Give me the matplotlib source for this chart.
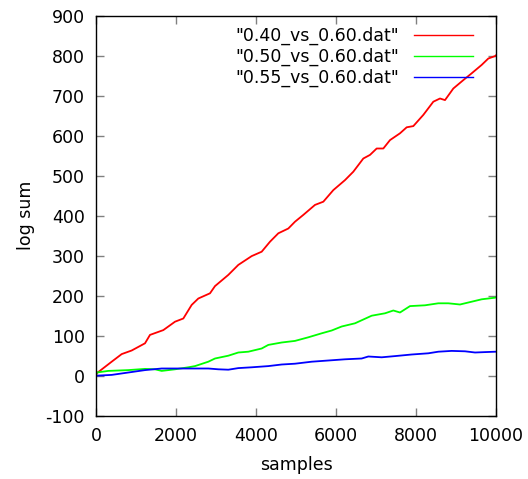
import matplotlib
matplotlib.use("Agg")
import matplotlib.pyplot as plt

plt.rcParams['font.family'] = ['DejaVu Sans']
plt.rcParams['axes.unicode_minus'] = False

red_x = [0, 17, 392, 642, 892, 1225, 1350, 1683, 1975, 2183, 2392, 2558, 2850, 2975,
         3308, 3558, 3892, 4142, 4350, 4558, 4808, 4975, 5183, 5475, 5683, 5933,
         6225, 6433, 6683, 6850, 7017, 7183, 7350, 7600, 7767, 7933, 8183, 8433,
         8600, 8725, 8933, 9183, 9392, 9642, 9808, 9975, 10000]
red_y = [0, 6, 35, 54, 63, 81, 102, 114, 135, 143, 177, 193, 206, 224,
         252, 277, 299, 310, 335, 356, 368, 385, 402, 427, 435, 464,
         489, 510, 543, 552, 568, 568, 589, 606, 621, 624, 652, 685,
         693, 689, 718, 739, 756, 777, 793, 799, 801]

green_x = [0, 17, 308, 808, 1225, 1475, 1642, 1975, 2308, 2475, 2808, 2975, 3308,
           3558, 3808, 4142, 4308, 4642, 4975, 5308, 5642, 5892, 6142, 6475,
           6892, 7225, 7433, 7600, 7850, 8225, 8558, 8808, 9100, 9392, 9642,
           9975, 10000]
green_y = [0, 8, 12, 14, 17, 16, 12, 16, 21, 24, 35, 43, 50,
           58, 60, 68, 77, 83, 87, 96, 106, 113, 123, 131,
           150, 156, 163, 158, 174, 176, 181, 181, 178, 185, 191,
           195, 196]

blue_x = [0, 392, 808, 1225, 1642, 2058, 2475, 2808, 3058, 3308, 3558, 3892,
          4308, 4642, 4975, 5392, 5808, 6225, 6642, 6808, 7142, 7475, 7892,
          8308, 8558, 8892, 9225, 9475, 9725, 10000]
blue_y = [0, 2, 8, 14, 18, 18, 18, 18, 16, 15, 19, 21,
          24, 28, 30, 35, 38, 41, 43, 48, 46, 49, 53,
          56, 60, 62, 61, 58, 59, 60]

labels = ['"0.40_vs_0.60.dat"', '"0.50_vs_0.60.dat"', '"0.55_vs_0.60.dat"']
x_ticks = [0, 2000, 4000, 6000, 8000, 10000]
y_ticks = [-100, 0, 100, 200, 300, 400, 500, 600, 700, 800, 900]

fig = plt.figure(figsize=(5.28, 4.79), dpi=100)
ax = fig.add_axes([96/528, (479-415.7)/479, 400/528, 400/479])

ax.plot(red_x, red_y, color='#ff0000', lw=1.3, label=labels[0])
ax.plot(green_x, green_y, color='#00ff00', lw=1.3, label=labels[1])
ax.plot(blue_x, blue_y, color='#0000ff', lw=1.3, label=labels[2])

ax.set_xlim(0, 10000)
ax.set_ylim(-100, 900)
ax.set_xticks(x_ticks)
ax.set_yticks(y_ticks)
ax.tick_params(direction='in', length=6, width=1.0, color='#808080',
               top=True, right=True, labelsize=12.5, pad=8)
for s in ax.spines.values():
    s.set_linewidth(1.0)
    s.set_color('black')

ax.set_xlabel('samples', fontsize=12.5, labelpad=8)
ax.set_ylabel('log sum', fontsize=12.5, labelpad=7.5)

leg = ax.legend(loc='upper right', bbox_to_anchor=(0.942, 0.972), frameon=False,
                markerfirst=False, fontsize=12.5, handlelength=3.4,
                handletextpad=0.85, labelspacing=0.16, borderpad=0, borderaxespad=0)
for line in leg.get_lines():
    line.set_linewidth(1.0)

fig.savefig('out.png', dpi=100)
